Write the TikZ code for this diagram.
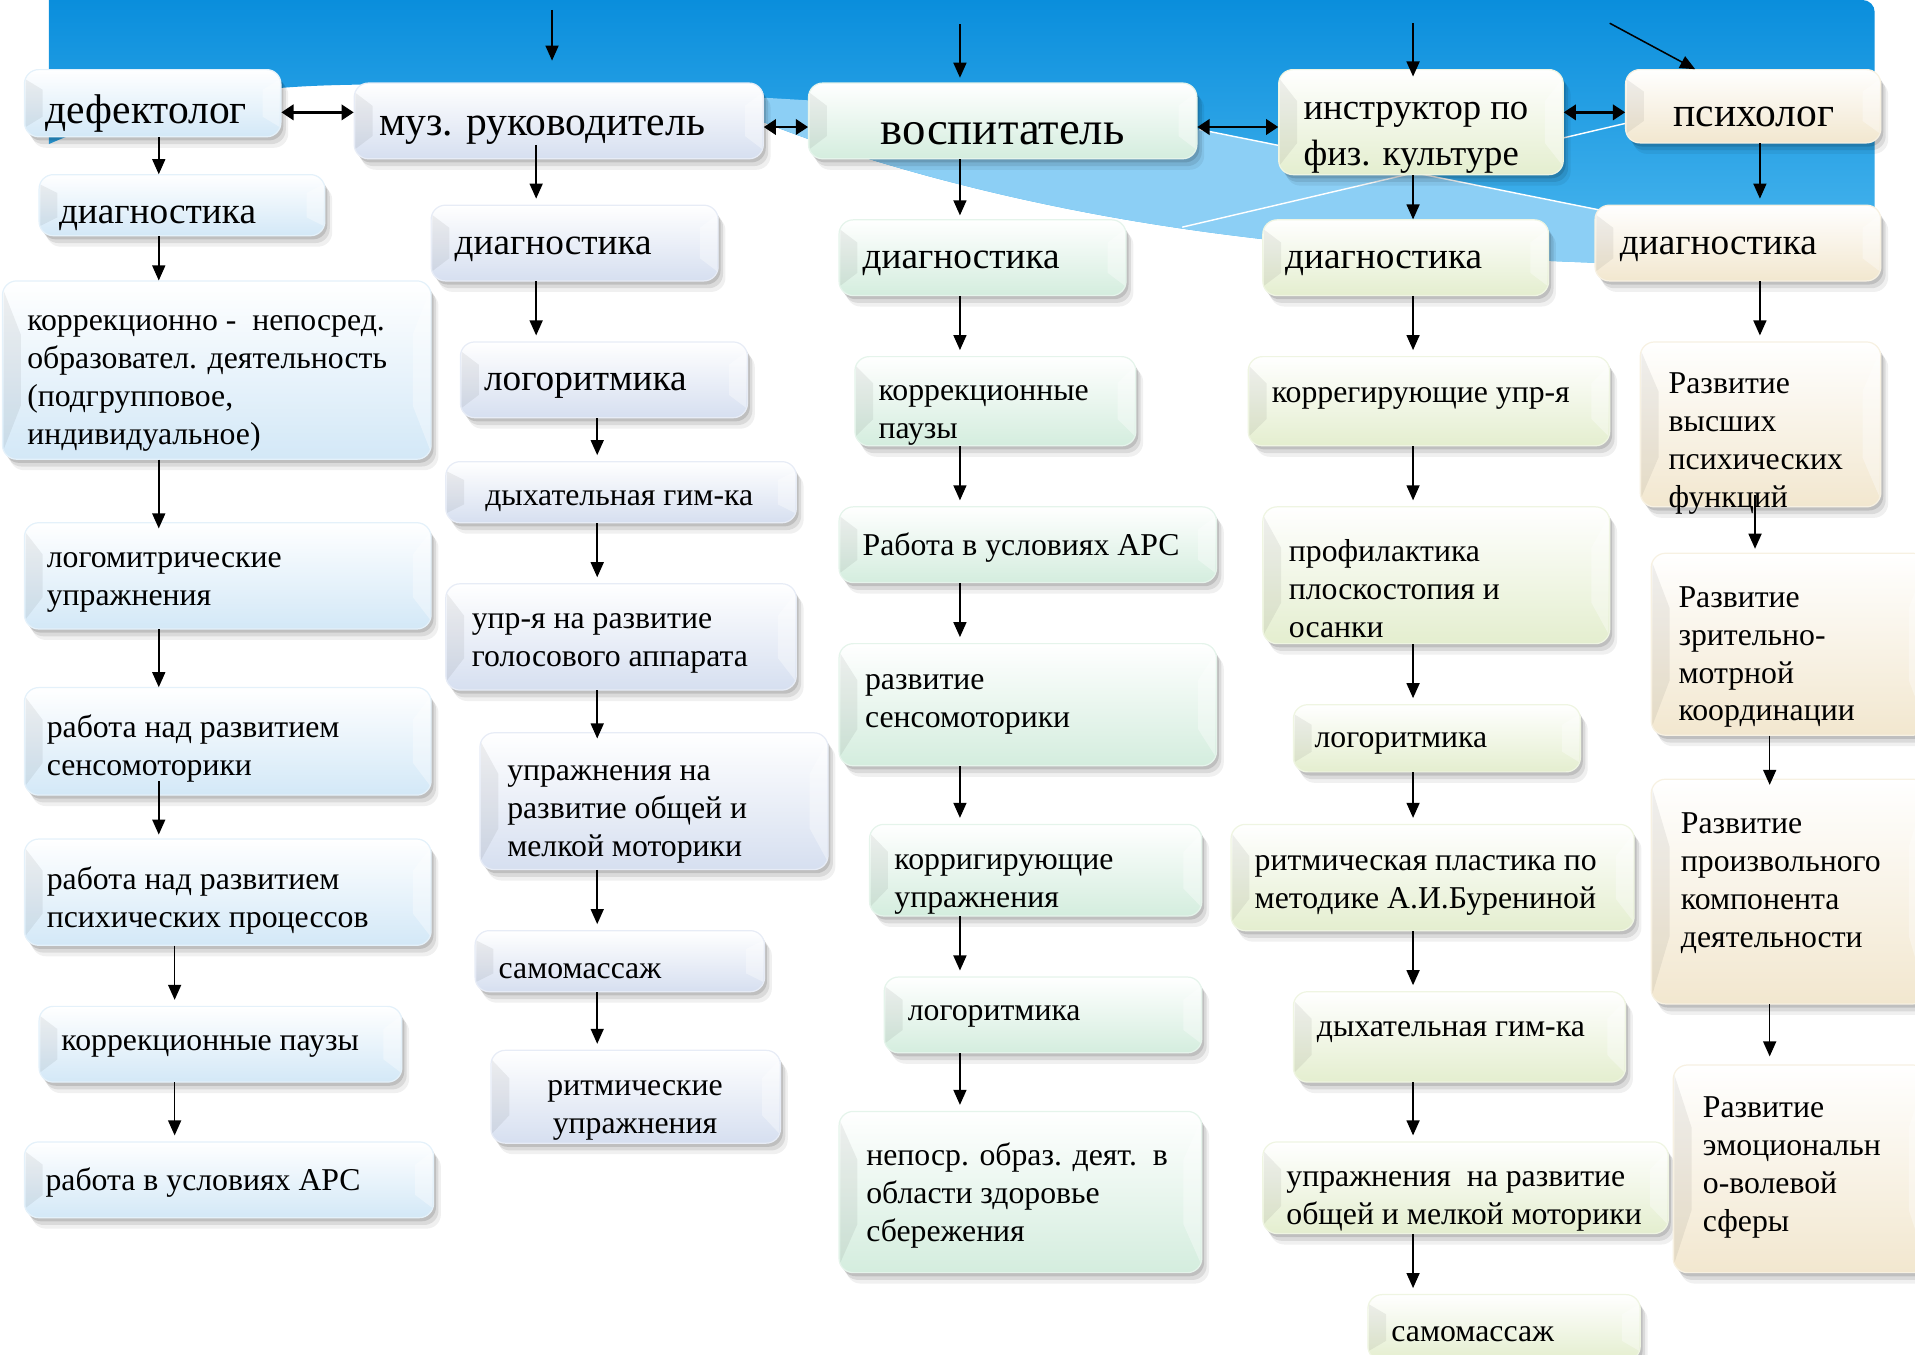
\documentclass[tikz,border=0pt]{standalone}
\usepackage{fontspec}
\setmainfont{Liberation Serif}
\usetikzlibrary{arrows.meta,fit,calc}
\definecolor{cA}{HTML}{D3E8F7}
\definecolor{cB}{HTML}{D6DFF0}
\definecolor{cC}{HTML}{D4EDDE}
\definecolor{cD}{HTML}{E4EECF}
\definecolor{cE}{HTML}{F2E7CF}
\definecolor{bTop}{HTML}{0A8EDC}
\definecolor{bBot}{HTML}{4DB8EF}
\definecolor{bLight}{HTML}{8CCFF5}
\newcommand\gbox[6]{%
 \fill[black,opacity=0.06,rounded corners=7pt] (#2+6,#3+9) rectangle (#4+6,#5+9);
 \fill[black,opacity=0.09,rounded corners=7pt] (#2+4,#3+6) rectangle (#4+4,#5+6);
 \fill[black,opacity=0.12,rounded corners=7pt] (#2+2,#3+3) rectangle (#4+2,#5+3);
 \shade[rounded corners=7pt, top color=white, middle color=#6, bottom color=#6] (#2,#3) rectangle (#4,#5);
 \fill[black,opacity=0.06] (#2+1,#3+8) -- (#2+15,{#3+0.3*(#5-#3)}) -- (#2+15,{#5-0.3*(#5-#3)}) -- (#2+1,#5-8) -- cycle;
 \fill[white,opacity=0.35] (#4-1,#3+8) -- (#4-15,{#3+0.3*(#5-#3)}) -- (#4-15,{#5-0.3*(#5-#3)}) -- (#4-1,#5-8) -- cycle;
 \draw[#6!60!white, line width=0.6pt, rounded corners=7pt] (#2,#3) rectangle (#4,#5);
 \node[fit={(#2,#3) (#4,#5)}, inner sep=0pt] (#1) {};
}
\tikzset{
 bt/.style={font=\fontsize{15.6}{18.6}\selectfont, align=left, inner sep=0pt, anchor=west, yshift=-3pt},
 ht/.style={font=\fontsize{18.3}{22}\selectfont, inner sep=0pt, anchor=west, yshift=-3pt},
 hd/.style={font=\fontsize{20.4}{24}\selectfont, inner sep=0pt, yshift=-2pt},
 arr/.style={-{Triangle[length=7.4pt,width=6.4pt]}, line width=0.75pt},
 darr/.style={{Triangle[length=6pt,width=7.5pt]}-{Triangle[length=6pt,width=7.5pt]}, line width=1.4pt},
}
\begin{document}
\begin{tikzpicture}[x=0.6pt,y=-0.6pt]
\useasboundingbox (0,0) rectangle (1568,1109);
% background
\shade[top color=bTop, bottom color=bBot]
 (40,0) -- (1525,0) to[out=0,in=90] (1535,10) -- (1535,218)
 .. controls (1400,220) and (1150,215) .. (960,186)
 .. controls (820,165) and (700,130) .. (625,100) -- (625,76)
 .. controls (450,70) and (300,66) .. (230,72)
 .. controls (150,80) and (80,100) .. (40,118) -- cycle;
\fill[bLight] (625,80) .. controls (800,90) and (900,100) .. (982,106) -- (1160,142) -- (1310,172) -- (1535,205) -- (1535,218)
 .. controls (1400,220) and (1150,215) .. (960,186)
 .. controls (820,165) and (700,130) .. (625,100) -- cycle;
\draw[white, line width=0.7pt] (968,186) -- (1331,101);
\draw[white, line width=0.7pt] (982,106) -- (1310,172);
% column 1
\gbox{d0}{20}{57}{230}{112}{cA}
\gbox{d1}{32}{143}{266}{193}{cA}
\gbox{d2}{2}{230}{353}{376}{cA}
\gbox{d3}{20}{428}{353}{515}{cA}
\gbox{d4}{20}{563}{353}{651}{cA}
\gbox{d5}{20}{687}{353}{774}{cA}
\gbox{d6}{32}{824}{329}{886}{cA}
\gbox{d7}{20}{935}{355}{997}{cA}
% column 2
\gbox{m0}{290}{68}{625}{130}{cB}
\gbox{m1}{353}{168}{588}{230}{cB}
\gbox{m2}{377}{280}{612}{342}{cB}
\gbox{m3}{365}{378}{652}{428}{cB}
\gbox{m4}{365}{478}{652}{565}{cB}
\gbox{m5}{393}{600}{678}{712}{cB}
\gbox{m6}{389}{762}{626}{812}{cB}
\gbox{m7}{402}{860}{639}{936}{cB}
% column 3
\gbox{v0}{662}{68}{980}{130}{cC}
\gbox{v1}{687}{180}{922}{242}{cC}
\gbox{v2}{700}{292}{930}{365}{cC}
\gbox{v3}{687}{415}{996}{477}{cC}
\gbox{v4}{687}{527}{996}{627}{cC}
\gbox{v5}{712}{675}{984}{750}{cC}
\gbox{v6}{724}{800}{984}{862}{cC}
\gbox{v7}{687}{910}{984}{1042}{cC}
% column 4
\gbox{i0}{1047}{57}{1280}{143}{cD}
\gbox{i1}{1034}{180}{1268}{242}{cD}
\gbox{i2}{1022}{292}{1318}{365}{cD}
\gbox{i3}{1034}{415}{1318}{527}{cD}
\gbox{i4}{1059}{577}{1294}{632}{cD}
\gbox{i5}{1008}{675}{1338}{762}{cD}
\gbox{i6}{1059}{812}{1331}{886}{cD}
\gbox{i7}{1034}{935}{1366}{1010}{cD}
\gbox{i8}{1120}{1060}{1343}{1114}{cD}
% column 5
\gbox{p0}{1331}{57}{1540}{117}{cE}
\gbox{p1}{1306}{168}{1540}{230}{cE}
\gbox{p2}{1343}{280}{1540}{415}{cE}
\gbox{p3}{1352}{453}{1578}{602}{cE}
\gbox{p4}{1352}{638}{1578}{822}{cE}
\gbox{p5}{1370}{872}{1578}{1042}{cE}
% texts
\node[hd,anchor=west] (d0t) at (37,90) {дефектолог};
\node[ht] (d1t) at (48,174) {диагностика};
\node[bt] (d2t) at (22,309) {коррекционно -\ \ непосред.\\образовател. деятельность\\(подгрупповое,\\индивидуальное)};
\node[bt] (d3t) at (38,472) {логомитрические\\упражнения};
\node[bt] (d4t) at (38,608) {работа над развитием\\сенсомоторики};
\node[bt] (d5t) at (38,732) {работа над развитием\\психических процессов};
\node[bt] (d6t) at (50,852) {коррекционные паузы};
\node[bt] (d7t) at (37,963) {работа в условиях АРС};
\node[hd,anchor=west] (m0t) at (310,103) {муз. руководитель};
\node[ht] (m1t) at (372,199) {диагностика};
\node[ht] (m2t) at (396,311) {логоритмика};
\node[bt] (m3t) at (397,405) {дыхательная гим-ка};
\node[bt] (m4t) at (386,522) {упр-я на развитие\\голосового аппарата};
\node[bt] (m5t) at (415,662) {упражнения на\\развитие общей и\\мелкой моторики};
\node[bt] (m6t) at (408,790) {самомассаж};
\node[bt,anchor=center,align=center] (m7t) at (520,904) {ритмические\\упражнения};
\node[font=\fontsize{23}{27}\selectfont, inner sep=0pt, yshift=-2pt] (v0t) at (821,106) {воспитатель};
\node[ht] (v1t) at (706,211) {диагностика};
\node[bt] (v2t) at (719,335) {коррекционные\\паузы};
\node[bt] (v3t) at (706,443) {Работа в условиях АРС};
\node[bt] (v4t) at (708,572) {развитие\\сенсомоторики};
\node[bt] (v5t) at (732,719) {корригирующие\\упражнения};
\node[bt] (v6t) at (743,827) {логоритмика};
\node[bt] (v7t) at (709,974) {непоср. образ. деят.\ \ в\\области здоровье\\сбережения};
\node[font=\fontsize{18}{22.2}\selectfont, inner sep=0pt, anchor=west, align=left, yshift=-3.5pt] (i0t) at (1067,107) {инструктор по\\физ. культуре};
\node[ht] (i1t) at (1052,211) {диагностика};
\node[bt] (i2t) at (1041,321) {коррегирующие упр-я};
\node[bt] (i3t) at (1055,477) {профилактика\\плоскостопия и\\осанки};
\node[bt] (i4t) at (1076,604) {логоритмика};
\node[bt] (i5t) at (1027,720) {ритмическая пластика по\\методике А.И.Бурениной};
\node[bt] (i6t) at (1078,840) {дыхательная гим-ка};
\node[bt] (i7t) at (1053,979) {упражнения\ \ на развитие\\общей и мелкой моторики};
\node[bt] (i8t) at (1139,1087) {самомассаж};
\node[hd] (p0t) at (1436,92) {психолог};
\node[ht] (p1t) at (1326,199) {диагностика};
\node[bt] (p2t) at (1366,358) {Развитие\\высших\\психических\\функций};
\node[bt] (p3t) at (1374,533) {Развитие\\зрительно-\\мотрной\\координации};
\node[bt] (p4t) at (1376,718) {Развитие\\произвольного\\компонента\\деятельности};
\node[bt] (p5t) at (1394,951) {Развитие\\эмоциональн\\о-волевой\\сферы};
% x guide coordinates
\coordinate (xa) at (130,0);
\coordinate (xb) at (143,0);
\coordinate (xc) at (439,0);
\coordinate (xd) at (489,0);
\coordinate (xe) at (786,0);
\coordinate (xf) at (1157,0);
\coordinate (xg) at (1441,0);
\coordinate (xh) at (1437,0);
\coordinate (xi) at (1449,0);
\coordinate (ya) at (0,92);
\coordinate (yb) at (0,104);
\coordinate (ta) at (452,8);
\coordinate (tb) at (786,20);
\coordinate (tc) at (1157,19);
\coordinate (td) at (1318,19);
\coordinate (te) at (1388,0);
% arrows col 1
\draw[arr] (d0.south -| xa) -- (d1.north -| xa);
\draw[arr] (d1.south -| xa) -- (d2.north -| xa);
\draw[arr] (d2.south -| xa) -- ([yshift=-3pt]d3.north -| xa);
\draw[arr] (d3.south -| xa) -- (d4.north -| xa);
\draw[arr] ([yshift=7pt]d4.south -| xa) -- ([yshift=2pt]d5.north -| xa);
\draw[arr] (d5.south -| xb) -- ([yshift=3pt]d6.north -| xb);
\draw[arr] (d6.south -| xb) -- ([yshift=3pt]d7.north -| xb);
% col 2
\draw[arr] ([yshift=7pt]m0.south -| xc) -- ([yshift=3pt]m1.north -| xc);
\draw[arr] (m1.south -| xc) -- ([yshift=3pt]m2.north -| xc);
\draw[arr] (m2.south -| xd) -- ([yshift=3pt]m3.north -| xd);
\draw[arr] (m3.south -| xd) -- ([yshift=3pt]m4.north -| xd);
\draw[arr] (m4.south -| xd) -- ([yshift=-3pt]m5.north -| xd);
\draw[arr] (m5.south -| xd) -- ([yshift=3pt]m6.north -| xd);
\draw[arr] (m6.south -| xd) -- ([yshift=3pt]m7.north -| xd);
% col 3
\draw[arr] (v0.south -| xe) -- ([yshift=2pt]v1.north -| xe);
\draw[arr] (v1.south -| xe) -- ([yshift=3pt]v2.north -| xe);
\draw[arr] (v2.south -| xe) -- ([yshift=3pt]v3.north -| xe);
\draw[arr] (v3.south -| xe) -- ([yshift=3pt]v4.north -| xe);
\draw[arr] (v4.south -| xe) -- ([yshift=3pt]v5.north -| xe);
\draw[arr] (v5.south -| xe) -- ([yshift=3pt]v6.north -| xe);
\draw[arr] (v6.south -| xe) -- ([yshift=3pt]v7.north -| xe);
% col 4
\draw[arr] (i0.south -| xf) -- (i1.north -| xf);
\draw[arr] (i1.south -| xf) -- ([yshift=3pt]i2.north -| xf);
\draw[arr] (i2.south -| xf) -- ([yshift=3pt]i3.north -| xf);
\draw[arr] (i3.south -| xf) -- ([yshift=3pt]i4.north -| xf);
\draw[arr] (i4.south -| xf) -- ([yshift=3pt]i5.north -| xf);
\draw[arr] (i5.south -| xf) -- ([yshift=3pt]i6.north -| xf);
\draw[arr] (i6.south -| xf) -- ([yshift=3pt]i7.north -| xf);
\draw[arr] (i7.south -| xf) -- ([yshift=3pt]i8.north -| xf);
% col 5
\draw[arr] (p0.south -| xg) -- ([yshift=3pt]p1.north -| xg);
\draw[arr] (p1.south -| xg) -- ([yshift=3pt]p2.north -| xg);
\draw[arr] ([yshift=6pt]p2.south -| xh) -- ([yshift=2pt]p3.north -| xh);
\draw[arr] (p3.south -| xi) -- ([yshift=-3pt]p4.north -| xi);
\draw[arr] (p4.south -| xi) -- ([yshift=4pt]p5.north -| xi);
% top arrows
\draw[arr, shorten >=10.8pt] (ta) -- (m0.north -| ta);
\draw[arr, shorten >=2.4pt] (tb) -- (v0.north -| tb);
\draw[arr] (tc) -- ([yshift=-3.6pt]i0.north -| tc);
\draw[arr] (td) -- (p0.north -| te);
% double arrows
\draw[darr] (d0.east |- ya) -- (m0.west |- ya);
\draw[darr] (m0.east |- yb) -- (v0.west |- yb);
\draw[darr] (v0.east |- yb) -- (i0.west |- yb);
\draw[darr] (i0.east |- ya) -- (p0.west |- ya);
\end{tikzpicture}
\end{document}
